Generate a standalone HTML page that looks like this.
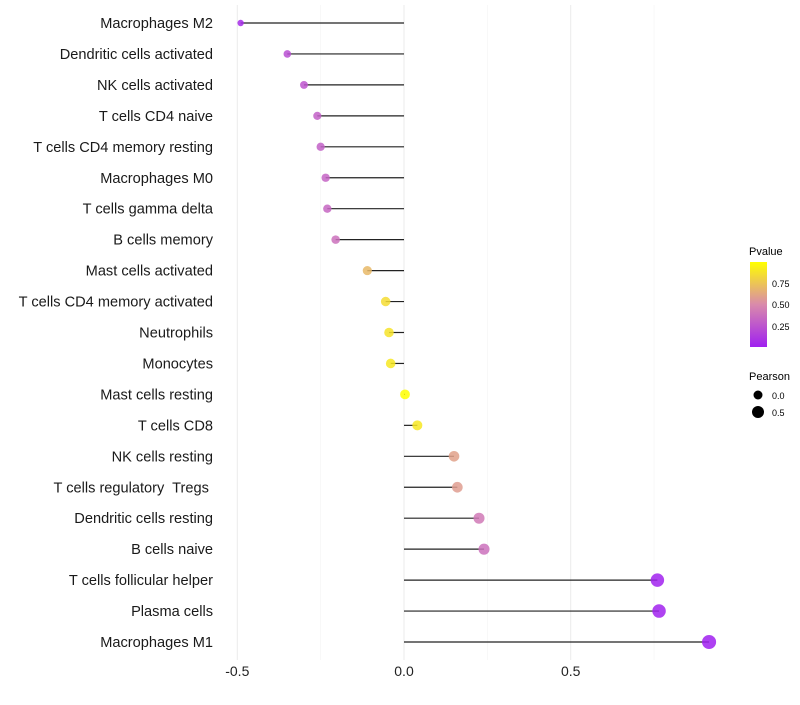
<!DOCTYPE html>
<html><head><meta charset="utf-8"><style>body{margin:0;background:#fff}svg{font-family:"Liberation Sans",sans-serif}#labels text{white-space:pre}</style></head>
<body>
<svg id="c" width="800" height="700">
<defs><linearGradient id="g" x1="0" y1="1" x2="0" y2="0">
<stop offset="0" stop-color="#a020f0"/><stop offset="0.5" stop-color="#d98aab"/><stop offset="1" stop-color="#ffff00"/></linearGradient></defs>
<g id="grid"></g>
<g id="marks"></g>
<g id="labels"></g>
<g id="xt"></g>
<g>
<text x="749" y="255" font-size="11">Pvalue</text>
<rect x="750" y="262" width="17" height="85" fill="url(#g)"/>
<text x="772" y="287" font-size="9">0.75</text>
<text x="772" y="308" font-size="9">0.50</text>
<text x="772" y="330" font-size="9">0.25</text>
</g>
<g>
<text x="749" y="380" font-size="11">Pearson</text>
<circle cx="758" cy="395" r="4.5" fill="#000"/>
<text x="772" y="399" font-size="9">0.0</text>
<circle cx="758" cy="412" r="6" fill="#000"/>
<text x="772" y="416" font-size="9">0.5</text>
</g>
</svg>
<script>
const categories=["Macrophages M2","Dendritic cells activated","NK cells activated","T cells CD4 naive","T cells CD4 memory resting","Macrophages M0","T cells gamma delta","B cells memory","Mast cells activated","T cells CD4 memory activated","Neutrophils","Monocytes","Mast cells resting","T cells CD8","NK cells resting","T cells regulatory  Tregs ","Dendritic cells resting","B cells naive","T cells follicular helper","Plasma cells","Macrophages M1"];
const pearson=[-0.49,-0.35,-0.30,-0.26,-0.25,-0.235,-0.23,-0.205,-0.11,-0.055,-0.045,-0.04,0.003,0.04,0.15,0.16,0.225,0.24,0.76,0.765,0.915];
const pvalues=[0.05,0.22,0.25,0.3,0.3,0.32,0.33,0.38,0.7,0.85,0.88,0.9,1.0,0.9,0.6,0.58,0.42,0.38,0.01,0.01,0.0];
const xTicks=[-0.5,0,0.5];
const xTickLabels=["-0.5","0.0","0.5"];
const NS="http://www.w3.org/2000/svg";
const x=v=>404+v*333.4, y=i=>23+i*30.95;
const rr=v=>Math.sqrt(Math.max(2.5,24+28*v));
function lerp(a,b,t){return a.map((c,i)=>Math.round(c+(b[i]-c)*t));}
function col(p){const s=[[160,32,240],[217,138,171],[255,255,0]];const c=p<0.5?lerp(s[0],s[1],p*2):lerp(s[1],s[2],(p-0.5)*2);return `rgb(${c})`;}
function mk(t,a,parent){const e=document.createElementNS(NS,t);for(const k in a)e.setAttribute(k,a[k]);document.getElementById(parent).appendChild(e);return e;}
[-0.25,0.25,0.75].forEach(v=>{const l=mk('line',{x1:x(v),x2:x(v),y1:5,y2:660,stroke:'#f4f4f4','stroke-width':0.6},'grid');

});
xTicks.forEach((v,i)=>{const l=mk('line',{x1:x(v),x2:x(v),y1:5,y2:660,stroke:'#ebebeb','stroke-width':1},'grid');


const t=mk('text',{x:x(v),y:676,'font-size':14,'text-anchor':'middle',fill:'#222'},'xt');t.textContent=xTickLabels[i];

});
categories.forEach((c,i)=>{
const t=mk('text',{x:213,y:y(i)+5,'font-size':14.6,'text-anchor':'end',fill:'#1a1a1a'},'labels');t.textContent=c;


const l=mk('line',{x1:x(0),x2:x(pearson[i]),y1:y(i),y2:y(i),stroke:'#222','stroke-width':1.2},'marks');


const d=mk('circle',{cx:x(pearson[i]),cy:y(i),r:rr(pearson[i]),fill:col(pvalues[i]),'fill-opacity':0.85},'marks');


});
</script>
</body></html>
